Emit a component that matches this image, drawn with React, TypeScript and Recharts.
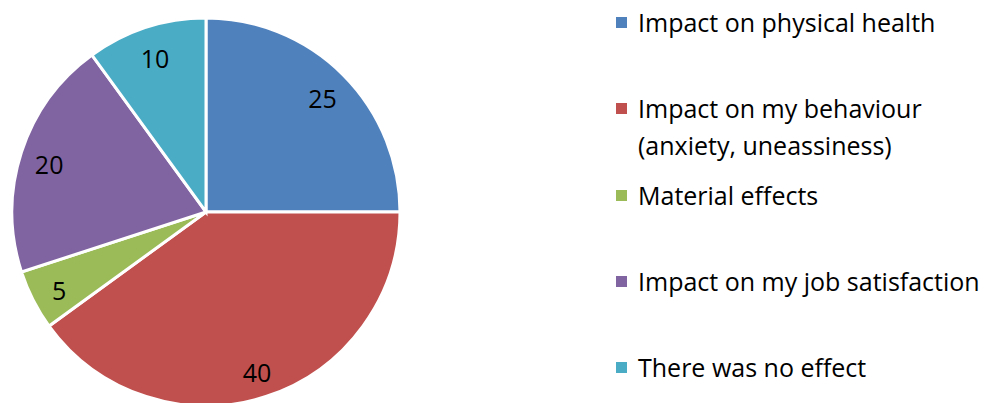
import { Cell, Legend, Pie, PieChart } from "recharts"

const categories = [
  "Impact on physical health",
  "Impact on my behaviour (anxiety, uneassiness)",
  "Material effects",
  "Impact on my job satisfaction",
  "There was no effect",
]
const values = [25, 40, 5, 20, 10]
const colors = ["#4F81BD", "#C0504D", "#9BBB59", "#8064A2", "#4BACC6"]

const data = categories.map((name, i) => ({ name, value: values[i] }))

const FONT = "'Open Sans', 'Noto Sans', sans-serif"
const RADIAN = Math.PI / 180

const renderLabel = (props: any) => {
  const { cx, cy, midAngle, outerRadius, value } = props
  const r = outerRadius * 0.85
  const x = cx + r * Math.cos(-midAngle * RADIAN)
  const y = cy + r * Math.sin(-midAngle * RADIAN) + 3
  return (
    <text x={x} y={y} fill="#000" fontSize={25} fontFamily={FONT} textAnchor="middle" dominantBaseline="central">
      {value}
    </text>
  )
}

const renderLegend = (props: any) => {
  // keep the order of the data, not the sorted payload
  const items = [...(props.payload || [])].sort(
    (a: any, b: any) => categories.indexOf(a.value) - categories.indexOf(b.value)
  )
  return (
    <div style={{ position: "relative", width: 374, height: 403, fontFamily: FONT, fontSize: 25, color: "#000" }}>
      {items.map((entry: any, i: number) => (
        <div key={i} style={{ position: "absolute", left: 0, top: 4 + i * 86.3, display: "flex", alignItems: "flex-start" }}>
          <div style={{ width: 11, height: 11, background: entry.color, marginTop: 13, marginRight: 11, flexShrink: 0 }} />
          <div style={{ width: 350, lineHeight: "37px" }}>{entry.value}</div>
        </div>
      ))}
    </div>
  )
}

export default function App() {
  return (
    <div style={{ position: "absolute", left: 0, top: 0, background: "#fff" }}>
      <PieChart width={990} height={403} margin={{ top: 0, right: 0, bottom: 0, left: 0 }}>
        <Pie
          data={data}
          dataKey="value"
          nameKey="name"
          cx={206}
          cy={212}
          outerRadius={194}
          startAngle={90}
          endAngle={-270}
          stroke="#fff"
          strokeWidth={3}
          label={renderLabel}
          labelLine={false}
          isAnimationActive={false}
        >
          {data.map((d, i) => (
            <Cell key={d.name} fill={colors[i]} />
          ))}
        </Pie>
        <Legend
          layout="vertical"
          align="right"
          verticalAlign="top"
          content={renderLegend}
          wrapperStyle={{ left: 616, top: 0, width: 374 }}
        />
      </PieChart>
    </div>
  )
}
